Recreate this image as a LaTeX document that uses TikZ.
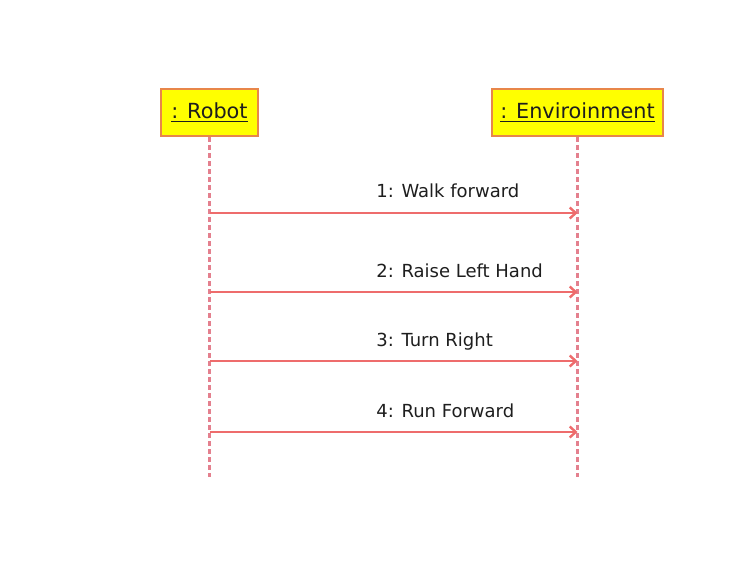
\documentclass[tikz,border=0pt]{standalone}
\usepackage{fontspec}
\setmainfont{DejaVu Sans}
\usetikzlibrary{calc, arrows.meta}

\definecolor{objborder}{HTML}{E8864A}
\definecolor{objfill}{HTML}{FFFF00}
\definecolor{lifecol}{HTML}{E4808E}
\definecolor{msgcol}{HTML}{EE6C6C}
\definecolor{txtcol}{HTML}{1E1E1E}

\tikzset{
	object/.style={draw=objborder, fill=objfill, line width=1pt, minimum height=23.5pt, inner sep=2pt, font=\fontsize{10.4}{12}\selectfont, text=txtcol},
	lifeline/.style={lifecol, line width=1.4pt, dash pattern=on 2.5pt off 1.5pt},
	msg/.style={msgcol, line width=1.2pt, -{Straight Barb[length=3pt, width=5.5pt]}},
	msglabel/.style={anchor=base west, inner sep=0pt, font=\fontsize{9}{11}\selectfont, text=txtcol}
}

\begin{document}
\begin{tikzpicture}[x=0.5pt, y=-0.5pt]
		\useasboundingbox (0,0) rectangle (744,583);
		
		\node [object, minimum width=48.5pt] (robot) at (209.5,112.5) {\underline{: Robot}};
		\node [object, minimum width=85.5pt] (env) at (577.5,112.5) {\underline{: Enviroinment}};
		
		\coordinate (robot end) at (209.5,477);
		\coordinate (env end) at (577.5,477);
		
		\draw [lifeline] (robot.south) -- (robot end);
		\draw [lifeline] (env.south) -- (env end);
		
		\foreach \i/\y/\txt in {1/213/1: Walk forward, 2/292/2: Raise Left Hand, 3/361/3: Turn Right, 4/432/4: Run Forward}
		{
			\coordinate (r\i) at (209.5,\y);
			\coordinate (e\i) at (577.5,\y);
			\draw [msg] (r\i) -- (e\i);
			\node [msglabel] (m\i) at ($ (376,\y) + (0,-15) $) {\txt};
		}
	\end{tikzpicture}
\end{document}
